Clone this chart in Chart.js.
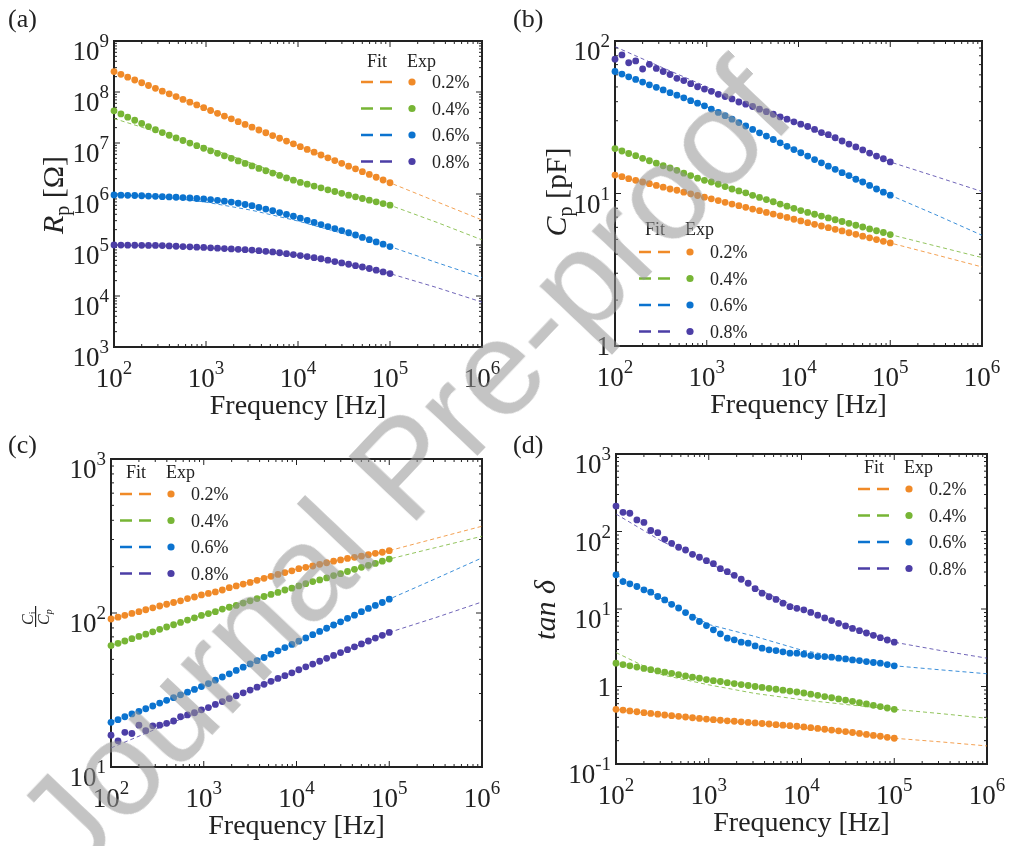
<!DOCTYPE html>
<html>
<head>
<meta charset="utf-8">
<script src="https://cdn.jsdelivr.net/npm/chart.js@4.4.0/dist/chart.umd.min.js"></script>
<style>
  html, body { margin: 0; padding: 0; background: #fff; }
  #wrap { position: relative; width: 1010px; height: 846px; overflow: hidden; }
  canvas { position: absolute; }
  #wm {
    position: absolute; left: 403px; top: 466px;
    transform: translate(-50%, -50%) rotate(-46.5deg);
    font-family: "Liberation Sans", Arial, sans-serif; font-size: 136px;
    color: rgba(148, 148, 148, 0.55); white-space: nowrap; pointer-events: none;
  }
</style>
</head>
<body>
<div id="wrap">
  <canvas id="ca" width="505" height="423" style="left:0;top:0"></canvas>
  <canvas id="cb" width="505" height="423" style="left:505px;top:0"></canvas>
  <canvas id="cc" width="505" height="423" style="left:0;top:423px"></canvas>
  <canvas id="cd" width="505" height="423" style="left:505px;top:423px"></canvas>
  <div id="wm">Journal Pre-proof</div>
</div>
<script>
// measured frequencies (Hz)
const freq = [100, 119, 141, 168, 200, 237, 282, 335, 398, 473, 562, 668, 794, 944,
  1122, 1334, 1585, 1884, 2239, 2661, 3162, 3758, 4467, 5309, 6310, 7499, 8913,
  10593, 12589, 14962, 17783, 21135, 25119, 29854, 35481, 42170, 50119, 59566, 70795, 84140, 100000];
const fitFreq = [100, 316, 1000, 3162, 10000, 31623, 100000, 316228, 1000000];
const seriesLabels = ['0.2%', '0.4%', '0.6%', '0.8%'];
const colors = ['#F08A28', '#77B535', '#0B73CF', '#4C3EA6'];
const fitColors = ['rgba(240,138,40,0.8)', 'rgba(119,181,53,0.8)', 'rgba(11,115,207,0.8)', 'rgba(76,62,166,0.8)'];
const xTicks = [1e2, 1e3, 1e4, 1e5, 1e6];

// (a) Rp [Ohm]
const rpExp02 = [2.51e8, 2.22e8, 1.95e8, 1.72e8, 1.52e8, 1.34e8, 1.18e8, 1.04e8, 9.2e7, 8.12e7, 7.16e7, 6.32e7, 5.57e7, 4.92e7, 4.34e7, 3.82e7, 3.37e7, 2.98e7, 2.62e7, 2.31e7, 2.04e7, 1.80e7, 1.59e7, 1.40e7, 1.24e7, 1.09e7, 9.62e6, 8.48e6, 7.48e6, 6.60e6, 5.82e6, 5.13e6, 4.53e6, 4.00e6, 3.52e6, 3.11e6, 2.74e6, 2.42e6, 2.13e6, 1.88e6, 1.66e6];
const rpExp04 = [4.27e7, 3.71e7, 3.21e7, 2.79e7, 2.42e7, 2.10e7, 1.82e7, 1.60e7, 1.42e7, 1.26e7, 1.12e7, 9.98e6, 8.87e6, 7.89e6, 7.03e6, 6.28e6, 5.60e6, 5.00e6, 4.46e6, 3.98e6, 3.55e6, 3.18e6, 2.86e6, 2.57e6, 2.31e6, 2.07e6, 1.87e6, 1.69e6, 1.56e6, 1.43e6, 1.32e6, 1.21e6, 1.12e6, 1.03e6, 9.5e5, 8.81e5, 8.17e5, 7.57e5, 7.02e5, 6.50e5, 6.03e5];
const rpExp06 = [9.55e5, 9.48e5, 9.42e5, 9.35e5, 9.25e5, 9.12e5, 9.0e5, 8.87e5, 8.75e5, 8.63e5, 8.51e5, 8.34e5, 8.17e5, 8.0e5, 7.76e5, 7.50e5, 7.24e5, 6.95e5, 6.58e5, 6.22e5, 5.89e5, 5.46e5, 5.06e5, 4.69e5, 4.33e5, 3.98e5, 3.66e5, 3.36e5, 3.05e5, 2.77e5, 2.51e5, 2.30e5, 2.10e5, 1.92e5, 1.74e5, 1.57e5, 1.41e5, 1.27e5, 1.15e5, 1.04e5, 9.33e4];
const rpExp08 = [1.0e5, 9.95e4, 9.93e4, 9.89e4, 9.86e4, 9.82e4, 9.79e4, 9.73e4, 9.59e4, 9.46e4, 9.33e4, 9.20e4, 9.08e4, 8.95e4, 8.81e4, 8.67e4, 8.51e4, 8.36e4, 8.22e4, 8.09e4, 7.94e4, 7.73e4, 7.52e4, 7.31e4, 7.05e4, 6.76e4, 6.49e4, 6.21e4, 5.92e4, 5.64e4, 5.37e4, 5.05e4, 4.74e4, 4.46e4, 4.19e4, 3.94e4, 3.70e4, 3.46e4, 3.21e4, 2.97e4, 2.75e4];
const rpFit02 = [2.51e8, 1.09e8, 4.71e7, 2.04e7, 8.83e6, 3.83e6, 1.66e6, 7.16e5, 3.09e5];
const rpFit04 = [3.02e7, 1.58e7, 8.32e6, 3.98e6, 1.86e6, 1.0e6, 6.03e5, 2.82e5, 1.26e5];
const rpFit06 = [9.55e5, 8.91e5, 6.92e5, 4.79e5, 2.95e5, 1.66e5, 9.33e4, 4.57e4, 2.29e4];
const rpFit08 = [1.0e5, 9.66e4, 8.71e4, 7.59e4, 6.17e4, 4.27e4, 2.75e4, 1.48e4, 7.59e3];
const rpTicks = [1e3, 1e4, 1e5, 1e6, 1e7, 1e8, 1e9];

// (b) Cp [pF]
const cpExp02 = [13.2, 12.9, 12.5, 12.2, 11.9, 11.6, 11.3, 11.0, 10.7, 10.5, 10.2, 9.95, 9.70, 9.46, 9.23, 8.99, 8.75, 8.53, 8.32, 8.11, 7.91, 7.71, 7.52, 7.33, 7.14, 6.97, 6.78, 6.61, 6.44, 6.28, 6.12, 5.97, 5.82, 5.68, 5.53, 5.40, 5.25, 5.12, 4.99, 4.86, 4.74];
const cpExp04 = [19.7, 19.0, 18.3, 17.7, 17.0, 16.4, 15.8, 15.2, 14.7, 14.2, 13.6, 13.1, 12.6, 12.2, 11.9, 11.5, 11.1, 10.7, 10.4, 10.1, 9.73, 9.42, 9.12, 8.83, 8.53, 8.26, 8.00, 7.73, 7.52, 7.31, 7.11, 6.92, 6.73, 6.55, 6.37, 6.19, 6.03, 5.86, 5.70, 5.55, 5.38];
const cpExp06 = [63.1, 60.7, 58.2, 56.0, 53.8, 51.6, 49.7, 47.8, 45.8, 44.1, 42.4, 40.6, 39.1, 37.6, 35.8, 34.0, 32.4, 30.7, 29.2, 27.7, 26.3, 25.0, 23.8, 22.6, 21.5, 20.4, 19.4, 18.5, 17.6, 16.7, 15.9, 15.1, 14.4, 13.7, 13.1, 12.4, 11.9, 11.3, 10.7, 10.2, 9.75];
const cpExp08 = [76, 81, 72, 74, 65.5, 70.3, 66.1, 63.1, 60.3, 56.9, 55.0, 52.5, 50.1, 48.4, 46.8, 44.7, 43.2, 41.7, 39.8, 38.5, 37.2, 35.7, 34.4, 33.1, 31.8, 30.7, 29.5, 28.5, 27.5, 26.3, 25.1, 24.3, 23.2, 22.1, 21.1, 20.2, 19.3, 18.4, 17.6, 16.9, 16.1];
const cpFit02 = [13.2, 11.1, 9.38, 7.91, 6.67, 5.62, 4.74, 3.96, 3.30];
const cpFit04 = [19.7, 15.3, 12.1, 9.66, 7.78, 6.46, 5.38, 4.52, 3.80];
const cpFit06 = [63.1, 48.4, 37.1, 26.3, 18.8, 13.5, 9.75, 7.24, 5.32];
const cpFit08 = [91.8, 67.6, 50.1, 38.0, 28.8, 21.4, 16.1, 12.9, 10.3];
const cpTicks = [1, 10, 100];

// (c) Ci/Cp
const ratioExp02 = [91.4, 94.0, 96.6, 99.3, 102, 105, 108, 111, 114, 117, 120, 124, 127, 131, 134, 137, 141, 146, 150, 154, 158, 163, 168, 173, 178, 183, 188, 194, 198, 202, 207, 212, 217, 221, 226, 230, 234, 239, 244, 248, 254];
const ratioExp04 = [61.4, 63.5, 65.8, 68.1, 70.5, 72.9, 75.5, 78.3, 81.1, 83.9, 86.9, 89.9, 93.1, 96.4, 99.1, 102, 106, 109, 112, 116, 120, 124, 128, 132, 136, 141, 145, 150, 155, 160, 164, 169, 175, 180, 186, 192, 198, 204, 210, 217, 224];
const ratioExp06 = [19.5, 20.3, 21.2, 22.1, 23.0, 23.9, 24.9, 26.0, 27.1, 28.2, 29.4, 30.6, 31.9, 33.3, 34.8, 36.6, 38.4, 40.3, 42.4, 44.5, 46.7, 49.0, 51.4, 54.0, 56.8, 59.6, 62.5, 65.6, 68.9, 72.3, 75.9, 79.6, 83.6, 87.7, 92.3, 96.8, 102, 107, 112, 117, 123];
const ratioExp08 = [16.1, 14.8, 16.8, 16.5, 18.7, 17.2, 18.5, 18.7, 19.2, 19.9, 21.2, 21.8, 22.5, 23.5, 24.3, 25.5, 26.6, 27.8, 29.0, 30.3, 31.6, 33.0, 34.4, 36.0, 37.6, 39.2, 40.9, 42.8, 44.7, 46.6, 48.6, 50.8, 53.0, 55.3, 57.8, 60.3, 63.0, 65.8, 68.7, 71.6, 74.8];
const ratioFit02 = [91.4, 110, 132, 160, 193, 224, 254, 305, 366];
const ratioFit04 = [61.4, 77.4, 97.5, 121, 149, 183, 224, 266, 315];
const ratioFit06 = [19.5, 25.6, 33.7, 46.7, 64.6, 89.1, 123, 167, 228];
const ratioFit08 = [13.3, 17.8, 23.4, 31.6, 42.2, 56.2, 74.8, 93.3, 118];
const ratioTicks = [10, 100, 1000];

// (d) tan delta
const tanExp02 = [0.508, 0.496, 0.484, 0.472, 0.460, 0.450, 0.439, 0.429, 0.420, 0.412, 0.404, 0.395, 0.387, 0.380, 0.373, 0.367, 0.361, 0.356, 0.350, 0.344, 0.339, 0.333, 0.328, 0.322, 0.317, 0.312, 0.307, 0.301, 0.294, 0.288, 0.281, 0.274, 0.268, 0.262, 0.255, 0.248, 0.241, 0.234, 0.228, 0.221, 0.215];
const tanExp04 = [2.00, 1.92, 1.85, 1.78, 1.71, 1.65, 1.59, 1.53, 1.48, 1.42, 1.37, 1.32, 1.28, 1.23, 1.19, 1.16, 1.12, 1.09, 1.06, 1.03, 1.00, 0.973, 0.946, 0.921, 0.897, 0.873, 0.849, 0.824, 0.796, 0.769, 0.741, 0.716, 0.692, 0.668, 0.644, 0.619, 0.596, 0.571, 0.550, 0.528, 0.508];
const tanExp06 = [27.6, 22.6, 21.1, 19.5, 17.7, 16.5, 14.5, 13.1, 11.5, 10.3, 9.0, 7.83, 6.90, 6.12, 5.38, 4.78, 4.20, 4.0, 3.73, 3.62, 3.34, 3.12, 2.97, 2.91, 2.80, 2.69, 2.69, 2.61, 2.51, 2.43, 2.43, 2.39, 2.32, 2.27, 2.20, 2.16, 2.10, 2.04, 2.0, 1.92, 1.85];
const tanExp08 = [213, 177, 172, 141, 131, 103, 96.6, 79.3, 70.4, 62.6, 57.7, 50.8, 46.5, 42.0, 38.4, 33.1, 30.3, 27.2, 24.2, 21.5, 18.3, 16.0, 14.4, 13.3, 11.9, 10.7, 10.2, 9.77, 9.02, 8.32, 7.67, 7.08, 6.53, 6.05, 5.62, 5.25, 4.90, 4.57, 4.27, 3.98, 3.73];
const tanFit02 = [0.508, 0.427, 0.372, 0.331, 0.295, 0.254, 0.215, 0.193, 0.171];
const tanFit04 = [2.74, 1.41, 1.05, 0.813, 0.676, 0.582, 0.508, 0.447, 0.389];
const tanFit06 = [27.6, 13.5, 6.31, 4.42, 2.95, 2.29, 1.85, 1.64, 1.46];
const tanFit08 = [168, 74.1, 39.8, 18.6, 10.0, 6.03, 3.73, 2.91, 2.32];
const tanTicks = [0.1, 1, 10, 100, 1000];

const SERIF = '"Liberation Serif", "Times New Roman", serif';
const INK = '#222';

function drawFrame(chart) {
  const { ctx, chartArea: a, scales: { x, y } } = chart;
  ctx.save();
  ctx.strokeStyle = INK;
  ctx.lineWidth = 1;
  [[x, true], [y, false]].forEach(([s, horiz]) => {
    const e0 = Math.round(Math.log10(s.min)), e1 = Math.round(Math.log10(s.max));
    for (let e = e0; e <= e1; e++) {
      for (let m = 1; m <= 9; m++) {
        const v = m * Math.pow(10, e);
        if (v > s.max * 1.0001) break;
        const p = s.getPixelForValue(v);
        const len = m === 1 ? 6 : 3;
        ctx.beginPath();
        if (horiz) {
          ctx.moveTo(p, a.bottom); ctx.lineTo(p, a.bottom - len);
          ctx.moveTo(p, a.top); ctx.lineTo(p, a.top + len);
        } else {
          ctx.moveTo(a.left, p); ctx.lineTo(a.left + len, p);
          ctx.moveTo(a.right, p); ctx.lineTo(a.right - len, p);
        }
        ctx.stroke();
      }
    }
  });
  ctx.lineWidth = 2;
  ctx.strokeRect(a.left, a.top, a.right - a.left, a.bottom - a.top);
  ctx.restore();
}

function powParts(v) {
  const e = Math.round(Math.log10(v));
  return e === 0 ? ['1', ''] : ['10', String(e)];
}

function drawRich(ctx, pieces, cx, cy, rot) {
  ctx.save();
  ctx.translate(cx, cy);
  if (rot) ctx.rotate(-Math.PI / 2);
  let w = 0;
  pieces.forEach(p => { ctx.font = p.font; p.w = ctx.measureText(p.t).width; w += p.w; });
  let xx = -w / 2;
  pieces.forEach(p => { ctx.font = p.font; ctx.fillText(p.t, xx, 10 + (p.dy || 0)); xx += p.w; });
  ctx.restore();
}

function drawText(chart, o) {
  const { ctx, chartArea: a, scales: { x, y } } = chart;
  ctx.save();
  ctx.fillStyle = INK;
  ctx.textAlign = 'left';
  ctx.textBaseline = 'alphabetic';
  const baseFont = '27px ' + SERIF, supFont = '19px ' + SERIF;

  xTicks.forEach(v => {
    const [b, s] = powParts(v);
    ctx.font = baseFont; const wb = ctx.measureText(b).width;
    ctx.font = supFont; const ws = s ? ctx.measureText(s).width : 0;
    const left = x.getPixelForValue(v) - (wb + ws) / 2;
    const by = a.bottom + 40;
    ctx.font = baseFont; ctx.fillText(b, left, by);
    if (s) { ctx.font = supFont; ctx.fillText(s, left + wb, by - 13); }
  });
  o.yTicks.forEach(v => {
    const [b, s] = powParts(v);
    ctx.font = baseFont; const wb = ctx.measureText(b).width;
    ctx.font = supFont; const ws = s ? ctx.measureText(s).width : 0;
    const left = a.left - 5 - wb - ws;
    const py = y.getPixelForValue(v);
    const by = py + (s ? 19 : 9);
    ctx.font = baseFont; ctx.fillText(b, left, by);
    if (s) { ctx.font = supFont; ctx.fillText(s, left + wb, by - 13); }
  });

  // axis titles
  ctx.font = '28px ' + SERIF;
  ctx.textAlign = 'center';
  ctx.fillText('Frequency [Hz]', (a.left + a.right) / 2, a.bottom + 67);
  ctx.textAlign = 'left';
  if (o.yTitle === 'frac') {
    ctx.save();
    ctx.translate(o.yTitlePos[0], o.yTitlePos[1]);
    ctx.rotate(-Math.PI / 2);
    ctx.font = 'italic 16px ' + SERIF; const wc = ctx.measureText('C').width;
    ctx.fillText('C', -8, -3);
    ctx.fillText('C', -8, 13);
    ctx.font = '10px ' + SERIF; ctx.fillText('i', -8 + wc, 0);
    ctx.font = 'italic 10px ' + SERIF; ctx.fillText('p', -8 + wc, 16);
    ctx.fillRect(-10, -1, 21, 1.2);
    ctx.restore();
  } else {
    drawRich(ctx, o.yTitle, o.yTitlePos[0], o.yTitlePos[1], true);
  }

  // panel tag
  ctx.font = '26px ' + SERIF;
  ctx.fillText(o.tag, 8, o.tagY);

  // legend
  const L = o.legend;
  ctx.font = '18px ' + SERIF;
  ctx.fillText('Fit', L.fitX, L.headY);
  ctx.fillText('Exp', L.fitX + 40, L.headY);
  seriesLabels.forEach((lab, i) => {
    const ry = L.rowY + i * 26.5;
    ctx.save();
    ctx.strokeStyle = colors[i];
    ctx.lineWidth = 2.4;
    ctx.setLineDash([12, 7]);
    ctx.beginPath(); ctx.moveTo(L.fitX - 6, ry); ctx.lineTo(L.fitX + 26, ry); ctx.stroke();
    ctx.restore();
    ctx.fillStyle = colors[i];
    ctx.beginPath(); ctx.arc(L.fitX + 45, ry, 3.6, 0, Math.PI * 2); ctx.fill();
    ctx.fillStyle = INK;
    ctx.fillText(lab, L.fitX + 65, ry + 6);
  });
  ctx.restore();
}

function makeChart(id, o) {
  const datasets = [];
  o.exp.forEach((vals, i) => datasets.push({
    data: freq.map((f, k) => ({ x: f, y: vals[k] })),
    showLine: false, pointRadius: 3.4, pointBackgroundColor: colors[i],
    pointBorderWidth: 0, order: 0, clip: false
  }));
  o.fit.forEach((vals, i) => datasets.push({
    data: fitFreq.map((f, k) => ({ x: f, y: vals[k] })),
    showLine: true, pointRadius: 0, borderColor: fitColors[i],
    borderWidth: 1, borderDash: [4, 3], order: 1, clip: false
  }));
  return new Chart(document.getElementById(id), {
    type: 'scatter',
    data: { datasets },
    options: {
      responsive: false, animation: false, devicePixelRatio: 1, events: [],
      layout: { padding: { top: o.pad[0], right: o.pad[1], left: 0, bottom: 0 } },
      plugins: { legend: { display: false }, tooltip: { enabled: false } },
      scales: {
        x: {
          type: 'logarithmic', min: 100, max: 1e6,
          ticks: { display: false }, grid: { display: false }, border: { display: false },
          afterFit: s => { s.height = o.xH; }
        },
        y: {
          type: 'logarithmic', min: o.yTicks[0], max: o.yTicks[o.yTicks.length - 1],
          ticks: { display: false }, grid: { display: false }, border: { display: false },
          afterFit: s => { s.width = o.yW; }
        }
      }
    },
    plugins: [{
      id: 'decor',
      beforeDatasetsDraw: c => drawFrame(c),
      afterDraw: c => drawText(c, o)
    }]
  });
}

makeChart('ca', {
  exp: [rpExp02, rpExp04, rpExp06, rpExp08], fit: [rpFit02, rpFit04, rpFit06, rpFit08],
  yTicks: rpTicks, pad: [41, 23], yW: 114, xH: 76, tag: '(a)', tagY: 27,
  yTitle: [{ t: 'R', font: 'italic 30px ' + SERIF }, { t: 'p', font: '20px ' + SERIF, dy: 6 }, { t: ' [Ω]', font: '30px ' + SERIF }],
  yTitlePos: [53, 195],
  legend: { fitX: 367, headY: 67, rowY: 82 }
});
makeChart('cb', {
  exp: [cpExp02, cpExp04, cpExp06, cpExp08], fit: [cpFit02, cpFit04, cpFit06, cpFit08],
  yTicks: cpTicks, pad: [41, 28], yW: 110, xH: 77, tag: '(b)', tagY: 27,
  yTitle: [{ t: 'C', font: 'italic 30px ' + SERIF }, { t: 'p', font: '20px ' + SERIF, dy: 6 }, { t: ' [pF]', font: '30px ' + SERIF }],
  yTitlePos: [51, 192],
  legend: { fitX: 140, headY: 235, rowY: 252 }
});
makeChart('cc', {
  exp: [ratioExp02, ratioExp04, ratioExp06, ratioExp08], fit: [ratioFit02, ratioFit04, ratioFit06, ratioFit08],
  yTicks: ratioTicks, pad: [36, 23], yW: 111, xH: 79, tag: '(c)', tagY: 30,
  yTitle: 'frac', yTitlePos: [36, 194],
  legend: { fitX: 126, headY: 55, rowY: 71 }
});
makeChart('cd', {
  exp: [tanExp02, tanExp04, tanExp06, tanExp08], fit: [tanFit02, tanFit04, tanFit06, tanFit08],
  yTicks: tanTicks, pad: [31, 23], yW: 111, xH: 82, tag: '(d)', tagY: 30,
  yTitle: [{ t: 'tan δ', font: 'italic 30px ' + SERIF }],
  yTitlePos: [40, 187],
  legend: { fitX: 359, headY: 50, rowY: 66 }
});
</script>
</body>
</html>
